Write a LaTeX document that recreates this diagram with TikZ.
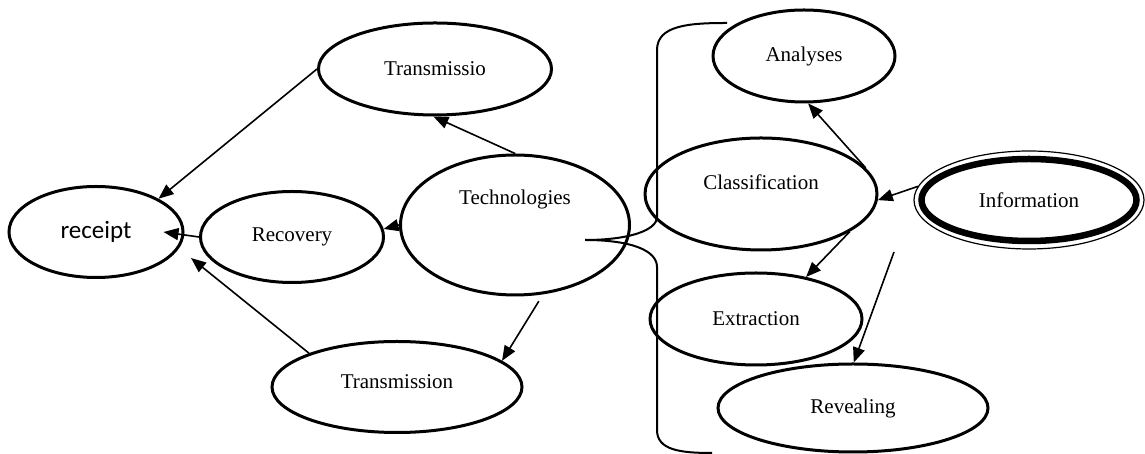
\documentclass[tikz,border=0pt]{standalone}
\usepackage{fontspec}
\setmainfont{Liberation Serif}
\newfontfamily\receiptfont{Carlito}
\usetikzlibrary{arrows.meta,shapes.geometric}
\tikzset{
  oval/.style={draw, ellipse, line width=3pt, inner sep=0pt},
  arrow/.style={-{Triangle[length=15pt,width=12pt]}, line width=1.6pt},
  bracket/.style={line width=2pt},
  ring/.style={line width=6.5pt}
}

\begin{document}
\begin{tikzpicture}[x=1pt, y=1pt, font=\fontsize{21}{25}\selectfont]
\useasboundingbox (0,0) rectangle (1145,454);
\node[oval, minimum width=174, minimum height=91, font=\receiptfont\fontsize{25}{30}\selectfont] (receipt) at (96,222) {receipt};
\node[oval, minimum width=183, minimum height=91] (recovery) at (292,217) {Recovery};
\node[oval, minimum width=233, minimum height=92] (trio) at (435,385) {Transmissio};
\node[oval, minimum width=229, minimum height=140, label={[yshift=26]center:Technologies}] (tech) at (515,229) {};
\node[oval, minimum width=250, minimum height=91, label={[yshift=5]center:Transmission}] (transmission) at (397,67) {};
\node[oval, minimum width=182, minimum height=92] (analyses) at (804,398) {Analyses};
\node[oval, minimum width=232, minimum height=112, label={[yshift=12]center:Classification}] (class) at (761,260) {};
\node[oval, minimum width=212, minimum height=92] (extraction) at (756,135) {Extraction};
\node[oval, minimum width=270, minimum height=88] (revealing) at (853,46) {Revealing};
\node[draw, ellipse, line width=1.2pt, inner sep=0pt, minimum width=230, minimum height=98] (info) at (1029,254) {Information};
\draw[ring] (info.center) ellipse [x radius=107.5, y radius=41];

\coordinate (brace) at (585,214);
\coordinate (gap) at (191,196);
\coordinate (infoout) at (894,202);

\draw[bracket] (brace) .. controls (630,214) and (657,224) .. (657,237) -- (657,404)
  .. controls (657,429) and (690,431) .. (727,431);
\draw[bracket] (brace) .. controls (630,214) and (657,204) .. (657,187) -- (657,24)
  .. controls (657,4) and (680,1) .. (712,1);

\draw[arrow] (trio.west) -- (receipt.28);
\draw[arrow] (tech.north) -- (trio.-92);
\draw[arrow] (tech.west) -- (recovery.5);
\draw[arrow] (recovery.west) -- ([xshift=-21]receipt.east);
\draw[arrow] (transmission.159) -- (gap);
\draw[arrow, shorten <=8pt] (tech.-68) -- (transmission.14);
\draw[arrow] (info.173) -- (class.-3);
\draw[arrow] (class.14) -- (analyses.-85);
\draw[arrow] (class.-23) -- (extraction.40);
\draw[arrow] (infoout) -- (revealing.89);
\end{tikzpicture}
\end{document}
